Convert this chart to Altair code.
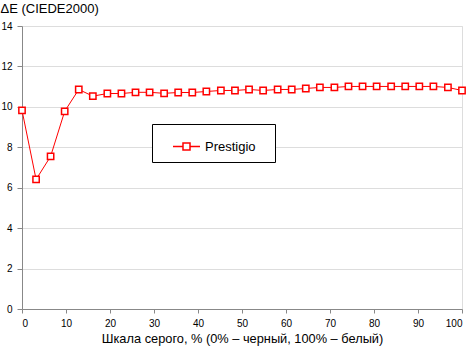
import altair as alt
import pandas as pd

gray_pct = [0, 3.2, 6.5, 9.7, 12.9, 16.1, 19.4, 22.6, 25.8, 29.0, 32.3, 35.5,
            38.7, 41.9, 45.2, 48.4, 51.6, 54.8, 58.1, 61.3, 64.5, 67.7, 71.0,
            74.2, 77.4, 80.6, 83.9, 87.1, 90.3, 93.5, 96.8, 100]
delta_e = [9.83, 6.41, 7.55, 9.78, 10.86, 10.53, 10.66, 10.66, 10.72, 10.72,
           10.67, 10.71, 10.71, 10.76, 10.81, 10.81, 10.86, 10.81, 10.86, 10.86,
           10.91, 10.96, 10.96, 11.01, 11.01, 11.01, 11.01, 11.01, 11.01, 11.01,
           10.96, 10.81]
series_name = "Prestigio"
x_ticks = [0, 10, 20, 30, 40, 50, 60, 70, 80, 90, 100]
y_ticks = [0, 2, 4, 6, 8, 10, 12, 14]

df = pd.DataFrame({"x": gray_pct, "y": delta_e, "series": series_name})

FONT = "Liberation Sans"
RED = "#ff0000"

x_enc = alt.X(
    "x:Q",
    scale=alt.Scale(domain=[0, 100], nice=False, zero=False),
    axis=alt.Axis(
        values=x_ticks, grid=False, tickSize=4, labelPadding=5,
        title="Шкала серого, % (0% – черный, 100% – белый)",
        titlePadding=4, titleFontSize=12.8, titleFontWeight="normal",
    ),
)
y_enc = alt.Y(
    "y:Q",
    scale=alt.Scale(domain=[0, 14], nice=False),
    axis=alt.Axis(
        values=y_ticks, grid=True, tickSize=5, labelPadding=5,
        title="ΔE (CIEDE2000)", titleAngle=0, titleAlign="left",
        titleBaseline="alphabetic", titleX=-22, titleY=-14,
        titleFontSize=13, titleFontWeight="normal",
    ),
)

line = alt.Chart(df).mark_line(strokeWidth=1).encode(
    x=x_enc,
    y=y_enc,
    color=alt.Color(
        "series:N",
        scale=alt.Scale(domain=[series_name], range=[RED]),
        legend=alt.Legend(
            title=".",
            titleOrient="right",
            titleColor="white",
            titleFontSize=13,
            titlePadding=7,
            orient="none",
            legendX=130,
            legendY=98,
            direction="vertical",
            symbolType="M-1,0H-0.26M0.26,0H1M-0.26,-0.26H0.26V0.26H-0.26Z",
            symbolSize=729,
            symbolStrokeWidth=1.5,
            symbolStrokeColor=RED,
            symbolFillColor="white",
            symbolOffset=12,
            labelFontSize=13,
            labelFont=FONT,
            labelColor="black",
            labelOffset=4,
            padding=8,
            strokeColor="black",
            fillColor="white",
        ),
    ),
)

points = alt.Chart(df).mark_point(
    shape="square", size=40, filled=True, fill="white", stroke=RED,
    strokeWidth=1.5, opacity=1,
).encode(x="x:Q", y="y:Q")

chart = (
    alt.layer(line, points)
    .properties(
        width=440, height=283,
        autosize=alt.AutoSizeParams(type="none"),
        padding={"left": 22, "top": 26, "right": 10, "bottom": 43},
    )
    .configure_view(stroke="black", strokeWidth=1)
    .configure_axis(
        domainColor="black", tickColor="black", gridColor="black",
        gridOpacity=1, domainOpacity=1, tickOpacity=1,
        gridWidth=1, domainWidth=1, tickWidth=1,
        labelFont=FONT, titleFont=FONT, labelFontSize=11.5,
        labelColor="black", titleColor="black",
    )
    .configure(background="white")
)

chart.save("out.html", embed_options={"renderer": "svg", "actions": False})
